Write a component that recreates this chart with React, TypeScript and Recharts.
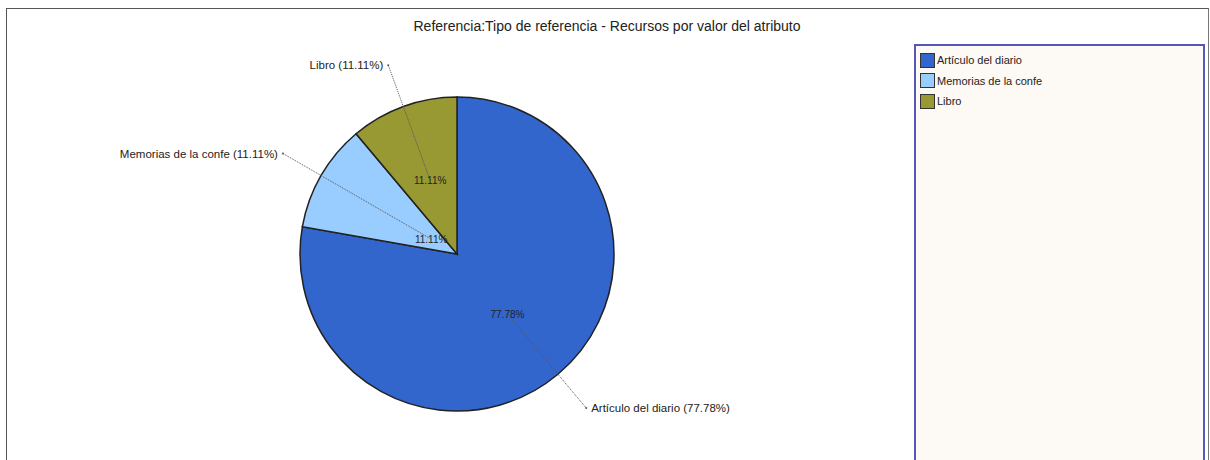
import { Cell, Legend, Pie, PieChart } from "recharts"

const categories = ["Artículo del diario", "Memorias de la confe", "Libro"]
const resourceCounts = [7, 1, 1]
const sliceColors = ["#3366cc", "#99ccff", "#999933"]

const chartTitle = "Referencia:Tipo de referencia - Recursos por valor del atributo"

const data = categories.map((name, i) => ({ name, value: resourceCounts[i] }))

const RAD = Math.PI / 180
const FONT = "'Liberation Sans', Arial, sans-serif"

function renderLabel(props: any) {
  const { cx, cy, midAngle, outerRadius, percent, index, name } = props
  const pct = `${(percent * 100).toFixed(2)}%`
  // the small slice next to the big one gets its inside label pushed toward the centre
  const innerFactor = index === 1 ? 0.19 : 0.5
  const cos = Math.cos(-midAngle * RAD)
  const sin = Math.sin(-midAngle * RAD)
  const ix = cx + outerRadius * innerFactor * cos
  const iy = cy + outerRadius * innerFactor * sin
  const ox = cx + outerRadius * 1.28 * cos
  const oy = cy + outerRadius * 1.28 * sin
  const right = cos >= 0

  return (
    <g key={`lbl-${index}`}>
      <line x1={ix} y1={iy} x2={ox} y2={oy} stroke="#555" strokeWidth={1} strokeDasharray="1 1" />
      <circle cx={ox} cy={oy} r={1} fill="#555" />
      <text x={ix} y={iy} textAnchor="middle" dominantBaseline="central" fontSize={10} fill="#222" fontFamily={FONT}>
        {pct}
      </text>
      <text
        x={ox + (right ? 5 : -5)}
        y={oy}
        textAnchor={right ? "start" : "end"}
        dominantBaseline="central"
        fontSize={11.5}
        fill="#222"
        fontFamily={FONT}
      >
        {`${name} (${pct})`}
      </text>
    </g>
  )
}

function LegendBox() {
  return (
    <div
      style={{
        position: "absolute",
        left: 914,
        top: 44,
        width: 291,
        height: 430,
        border: "2px solid #5555bb",
        background: "#fdf9f4",
        boxSizing: "border-box",
        paddingTop: 4,
        paddingLeft: 4,
        fontFamily: FONT,
        fontSize: 11,
        color: "#222",
      }}
    >
      {categories.map((name, i) => (
        <div key={name} style={{ display: "flex", alignItems: "center", height: 20.5 }}>
          <span
            style={{
              width: 13,
              height: 13,
              background: sliceColors[i],
              border: "1px solid #333",
              display: "inline-block",
              marginRight: 2,
            }}
          />
          {name}
        </div>
      ))}
    </div>
  )
}

export default function App() {
  return (
    <div style={{ position: "absolute", left: 0, top: 0, width: 1210, height: 460, overflow: "hidden", background: "#fff" }}>
      <div
        style={{
          position: "absolute",
          left: 6,
          top: 8,
          width: 1203,
          height: 480,
          borderTop: "1px solid #555",
          borderLeft: "1px solid #555",
          borderRight: "1px solid #777",
          boxSizing: "border-box",
        }}
      />
      <div
        style={{
          position: "absolute",
          left: 0,
          top: 18,
          width: 1214,
          textAlign: "center",
          fontFamily: FONT,
          fontSize: 14,
          color: "#222",
        }}
      >
        {chartTitle}
      </div>
      <div style={{ position: "absolute", left: 0, top: 0 }}>
        <PieChart width={1210} height={460} margin={{ top: 0, right: 0, bottom: 0, left: 0 }}>
          <Pie
            data={data}
            dataKey="value"
            nameKey="name"
            cx={457}
            cy={254}
            outerRadius={157}
            startAngle={90}
            endAngle={-270}
            stroke="#222"
            strokeWidth={1.5}
            label={renderLabel}
            labelLine={false}
            isAnimationActive={false}
          >
            {data.map((entry, i) => (
              <Cell key={entry.name} fill={sliceColors[i]} />
            ))}
          </Pie>
          <Legend content={() => null} />
        </PieChart>
      </div>
      <LegendBox />
    </div>
  )
}
